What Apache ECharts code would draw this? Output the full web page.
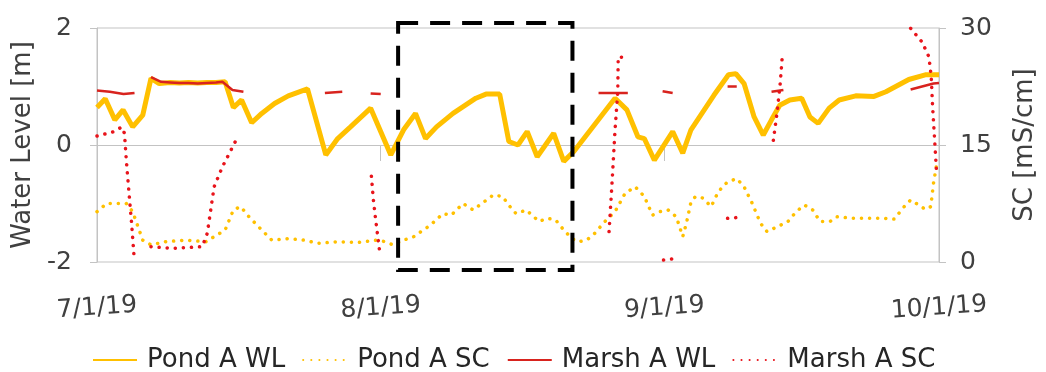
<!DOCTYPE html>
<html>
<head>
<meta charset="utf-8">
<script src="https://cdn.jsdelivr.net/npm/echarts@6/dist/echarts.min.js"></script>
<style>html,body{margin:0;padding:0;background:#fff}#c{width:1046px;height:372px}</style>
</head>
<body>
<div id="c"></div>
<script>
// x values are days after 7/1/19
const xTickDays = [0, 31, 62, 92];
const xTickLabels = ['7/1/19', '8/1/19', '9/1/19', '10/1/19'];
const wlTicks = [-2, 0, 2];
const scTicks = [0, 15, 30];

const pondWLDays = [0, 0.9, 1.95, 2.85, 3.9, 5, 5.9, 6.8, 8, 9, 10, 11, 12, 13, 14, 14.9, 15.8, 16.9, 18, 19.4, 20.9, 23, 25, 26.3, 27.7, 29.9, 32.1, 33.5, 34.8, 35.9, 37.1, 38.9, 41.4, 42.5, 44, 45, 46, 47, 48.1, 49.9, 51, 52.1, 56.6, 57.9, 59.1, 59.8, 60.9, 62.9, 64, 64.9, 67.4, 69, 69.8, 70.7, 71.8, 72.8, 73.7, 74.6, 75.7, 77, 77.9, 78.8, 80, 81.1, 82.9, 84.9, 86.2, 88.7, 90.5, 92];
const pondWL = [0.64, 0.79, 0.43, 0.6, 0.31, 0.51, 1.14, 1.05, 1.07, 1.06, 1.07, 1.06, 1.07, 1.07, 1.08, 0.64, 0.77, 0.38, 0.54, 0.71, 0.84, 0.96, -0.17, 0.11, 0.31, 0.63, -0.17, 0.26, 0.54, 0.11, 0.31, 0.54, 0.8, 0.87, 0.87, 0.06, 0.0, 0.23, -0.2, 0.2, -0.28, -0.11, 0.8, 0.6, 0.14, 0.11, -0.26, 0.23, -0.14, 0.26, 0.85, 1.2, 1.22, 1.05, 0.48, 0.17, 0.43, 0.68, 0.77, 0.8, 0.48, 0.37, 0.63, 0.77, 0.84, 0.83, 0.91, 1.12, 1.2, 1.2];

const pondSCDays = [0, 1.05, 3.2, 3.9, 5.0, 5.9, 7.5, 9.7, 11.9, 13.1, 14.0, 14.9, 15.7, 16.6, 18.0, 19.1, 20.9, 22.7, 24.1, 26.3, 28.5, 30.6, 31.5, 32.3, 33.5, 34.6, 36.4, 37.8, 38.7, 40.0, 41.1, 43.3, 44.3, 45.4, 45.8, 46.9, 48.3, 49.2, 50.1, 51.0, 51.9, 52.6, 53.5, 54.4, 55.5, 56.6, 57.7, 58.8, 59.8, 60.7, 61.5, 62.4, 63.3, 64.0, 64.4, 64.9, 65.4, 66.2, 67.1, 67.8, 68.5, 69.0, 69.9, 70.7, 71.6, 72.5, 73.2, 74.3, 75.5, 76.4, 77.3, 78.2, 79.0, 80.1, 80.8, 82.6, 84.4, 86.1, 87.1, 88.2, 88.9, 89.8, 90.5, 91.1, 91.4, 91.7, 91.9];
const pondSC = [6.45, 7.5, 7.5, 6.45, 2.8, 2.2, 2.6, 2.8, 2.6, 3.46, 4.1, 6.67, 7.1, 5.8, 4.1, 2.8, 3.0, 2.8, 2.4, 2.6, 2.5, 2.8, 2.6, 2.2, 2.8, 3.25, 4.7, 6.2, 6.0, 7.5, 6.67, 8.6, 8.4, 6.67, 6.2, 6.67, 5.2, 5.6, 5.4, 4.1, 3.0, 2.6, 2.8, 3.7, 5.2, 6.45, 8.8, 9.65, 8.4, 6.0, 6.45, 6.67, 5.8, 3.25, 4.96, 7.7, 8.4, 8.2, 7.1, 8.8, 9.9, 10.3, 10.7, 9.65, 7.5, 4.96, 3.9, 4.5, 5.2, 6.45, 7.3, 6.67, 5.2, 5.2, 5.8, 5.6, 5.6, 5.6, 5.5, 7.1, 7.95, 7.3, 6.75, 7.1, 10.1, 12.2, 13.0];

// null marks a gap in the record
const marshWLDays = [0, 1.4, 2.9, 4.1, 5, 5.9, 7.0, 8, 9, 10, 11, 12, 13, 13.7, 14.8, 16.0, 20, 24.9, 26.8, 28, 29.9, 31.0, 40, 54.8, 58.0, 60, 61.8, 62.9, 66, 68.9, 69.9, 72, 73.7, 75.0, 80, 88.9, 91.4, 92];
const marshWL = [0.93, 0.91, 0.87, 0.89, null, 1.16, 1.08, 1.07, 1.06, 1.06, 1.05, 1.06, 1.07, 1.08, 0.94, 0.91, null, 0.89, 0.91, null, 0.88, 0.87, null, 0.89, 0.89, null, 0.92, 0.89, null, 1.0, 1.0, null, 0.91, 0.94, null, 0.95, 1.05, 1.06];

const marshSCDays = [0, 1.8, 2.7, 3.0, 3.2, 3.5, 3.75, 4.05, 5, 5.9, 8.3, 11.5, 12.05, 12.8, 13.7, 14.75, 15.4, 20, 29.98, 30.2, 30.45, 30.9, 40, 55.95, 56.25, 56.6, 56.9, 56.95, 57.9, 60, 61.9, 62.9, 66, 68.9, 69.9, 72, 73.9, 74.3, 74.65, 74.9, 80, 88.9, 90.15, 90.9, 91.15, 91.3, 91.5, 91.75];
const marshSC = [16.15, 16.7, 17.3, 16.5, 13.1, 8.8, 5.4, 0.7, null, 1.96, 1.75, 1.96, 3.7, 9.65, 12.2, 14.6, 16.1, null, 11.0, 7.95, 5.4, 1.2, null, 3.9, 9.65, 16.9, 21.8, 26.3, 26.2, null, 0.25, 0.4, null, 5.6, 5.7, null, 15.6, 19.1, 22.9, 26.75, null, 29.95, 28.2, 26.3, 23.75, 19.9, 16.1, 11.15];

// highlighted window (dashed box): [startDay, topLevel, endDay, bottomLevel]
const boxWindow = [[32.9, 2.085, 51.95, -2.137]];

const zip = (a, b) => a.map((d, i) => [d, b[i]]);
const FONT = 'DejaVu Sans';
const TXT = '#404040';
const GOLD = '#FFC000';
const DOT = [0.1, 8];

const chart = echarts.init(document.getElementById('c'), null, {renderer: 'canvas'});
chart.setOption({
  animation: false,
  backgroundColor: '#fff',
  grid: {left: 97, right: 99, top: 28, bottom: 110, show: true, borderColor: '#c3c3c3', borderWidth: 1},
  legend: {
    left: 87, top: 342,
    itemWidth: 44, itemHeight: 14, itemGap: 17,
    data: ['Pond A WL', 'Pond A SC', 'Marsh A WL', 'Marsh A SC'],
    itemStyle: {opacity: 0, borderWidth: 0},
    textStyle: {fontFamily: FONT, fontSize: 26, color: '#262626', padding: [0, 0, 0, 5]}
  },
  xAxis: {
    type: 'value', min: 0, max: 92,
    axisLine: {show: true, lineStyle: {color: '#c3c3c3', width: 1}},
    axisTick: {show: true, length: 16, lineStyle: {color: '#c3c3c3'}, customValues: xTickDays},
    axisLabel: {
      customValues: xTickDays, rotate: 4, align: 'center', margin: 46,
      fontFamily: FONT, fontSize: 25, color: TXT,
      formatter: v => xTickLabels[xTickDays.indexOf(v)]
    },
    splitLine: {show: false}
  },
  yAxis: [{
    type: 'value', min: wlTicks[0], max: wlTicks[2], interval: 2,
    name: 'Water Level [m]', nameLocation: 'middle', nameRotate: 90, nameGap: 58,
    nameTextStyle: {fontFamily: FONT, fontSize: 26, color: TXT},
    axisLine: {show: true, lineStyle: {color: '#c3c3c3'}},
    axisTick: {show: true, length: 7, lineStyle: {color: '#c3c3c3'}},
    axisLabel: {fontFamily: FONT, fontSize: 25, color: TXT, margin: 25},
    splitLine: {show: false}
  }, {
    type: 'value', position: 'right', min: scTicks[0], max: scTicks[2], interval: 15,
    name: 'SC [mS/cm]', nameLocation: 'middle', nameRotate: 90, nameGap: 73,
    nameTextStyle: {fontFamily: FONT, fontSize: 26, color: TXT},
    axisLine: {show: true, lineStyle: {color: '#c3c3c3'}},
    axisTick: {show: true, length: 7, lineStyle: {color: '#c3c3c3'}},
    axisLabel: {fontFamily: FONT, fontSize: 25, color: TXT, margin: 21},
    splitLine: {show: false}
  }],
  series: [{
    name: 'Pond A WL', type: 'line', yAxisIndex: 0, symbol: 'none',
    data: zip(pondWLDays, pondWL),
    lineStyle: {color: GOLD, width: 5}, itemStyle: {color: GOLD}
  }, {
    name: 'Pond A SC', type: 'line', yAxisIndex: 1, symbol: 'none',
    data: zip(pondSCDays, pondSC),
    lineStyle: {color: GOLD, width: 3.5, type: DOT, cap: 'round'}, itemStyle: {color: GOLD}
  }, {
    name: 'Marsh A WL', type: 'line', yAxisIndex: 0, symbol: 'none', connectNulls: false,
    data: zip(marshWLDays, marshWL),
    lineStyle: {color: '#D8231E', width: 2.5}, itemStyle: {color: '#D8231E'}
  }, {
    name: 'Marsh A SC', type: 'line', yAxisIndex: 1, symbol: 'none', connectNulls: false,
    data: zip(marshSCDays, marshSC),
    lineStyle: {color: '#E8141B', width: 3.5, type: DOT, cap: 'round'}, itemStyle: {color: '#E8141B'}
  }, {
    name: 'box', type: 'custom', yAxisIndex: 0, silent: true, clip: false, z: 10,
    data: boxWindow,
    renderItem: function (params, api) {
      const p0 = api.coord([api.value(0), api.value(1)]);
      const p1 = api.coord([api.value(2), api.value(3)]);
      return {
        type: 'rect',
        shape: {x: p0[0], y: p0[1], width: p1[0] - p0[0], height: p1[1] - p0[1]},
        style: {fill: null, stroke: '#000', lineWidth: 4, lineDash: [20, 12]}
      };
    }
  }]
});
</script>
</body>
</html>
